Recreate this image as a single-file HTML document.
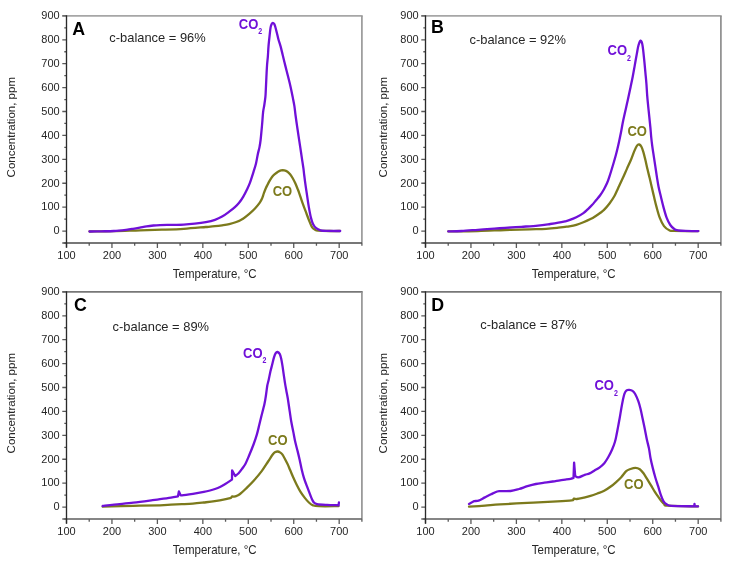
<!DOCTYPE html>
<html><head><meta charset="utf-8"><style>
html,body{margin:0;padding:0;background:#fff;}
body{width:730px;height:564px;overflow:hidden;}
svg{display:block;filter:blur(0.3px);}
text{font-family:"Liberation Sans",sans-serif;}
.tk{font-size:11px;fill:#262626;}
.at{font-size:11.5px;fill:#262626;}
.cb{font-size:12.9px;fill:#262626;}
.pl{font-size:17.8px;font-weight:bold;fill:#000;}
.lb{font-size:13px;font-weight:bold;}
.sub{font-size:8.8px;}
</style></head><body>
<svg width="730" height="564" viewBox="0 0 730 564">
<rect width="730" height="564" fill="#fff"/>
<path d="M62.3,15.9H362.7" stroke="#a6a6a6" stroke-width="1.7" fill="none"/>
<path d="M361.9,15.9V243" stroke="#9a9a9a" stroke-width="1.7" fill="none"/>
<path d="M64.3,243H66.5M62.3,231.05H66.5M64.3,219.09H66.5M62.3,207.14H66.5M64.3,195.19H66.5M62.3,183.24H66.5M64.3,171.28H66.5M62.3,159.33H66.5M64.3,147.38H66.5M62.3,135.43H66.5M64.3,123.47H66.5M62.3,111.52H66.5M64.3,99.57H66.5M62.3,87.62H66.5M64.3,75.66H66.5M62.3,63.71H66.5M64.3,51.76H66.5M62.3,39.81H66.5M64.3,27.85H66.5M62.3,15.9H66.5M66.5,243V247.9M89.22,243V245.7M111.95,243V247.9M134.67,243V245.7M157.39,243V247.9M180.12,243V245.7M202.84,243V247.9M225.56,243V245.7M248.28,243V247.9M271.01,243V245.7M293.73,243V247.9M316.45,243V245.7M339.18,243V247.9M361.9,243V245.7" stroke="#5a5a5a" stroke-width="1.3" fill="none"/>
<path d="M62.3,243H361.9" stroke="#4a4a4a" stroke-width="1.7" fill="none"/>
<path d="M66.5,15.3V247.4" stroke="#2a2a2a" stroke-width="1.35" fill="none"/>
<text transform="translate(59.6,234.35) scale(1,1.07)" text-anchor="end" class="tk">0</text>
<text transform="translate(59.6,210.44) scale(1,1.07)" text-anchor="end" class="tk">100</text>
<text transform="translate(59.6,186.54) scale(1,1.07)" text-anchor="end" class="tk">200</text>
<text transform="translate(59.6,162.63) scale(1,1.07)" text-anchor="end" class="tk">300</text>
<text transform="translate(59.6,138.73) scale(1,1.07)" text-anchor="end" class="tk">400</text>
<text transform="translate(59.6,114.82) scale(1,1.07)" text-anchor="end" class="tk">500</text>
<text transform="translate(59.6,90.92) scale(1,1.07)" text-anchor="end" class="tk">600</text>
<text transform="translate(59.6,67.01) scale(1,1.07)" text-anchor="end" class="tk">700</text>
<text transform="translate(59.6,43.11) scale(1,1.07)" text-anchor="end" class="tk">800</text>
<text transform="translate(59.6,19.2) scale(1,1.07)" text-anchor="end" class="tk">900</text>
<text transform="translate(66.5,259) scale(1,1.07)" text-anchor="middle" class="tk">100</text>
<text transform="translate(111.95,259) scale(1,1.07)" text-anchor="middle" class="tk">200</text>
<text transform="translate(157.39,259) scale(1,1.07)" text-anchor="middle" class="tk">300</text>
<text transform="translate(202.84,259) scale(1,1.07)" text-anchor="middle" class="tk">400</text>
<text transform="translate(248.28,259) scale(1,1.07)" text-anchor="middle" class="tk">500</text>
<text transform="translate(293.73,259) scale(1,1.07)" text-anchor="middle" class="tk">600</text>
<text transform="translate(339.18,259) scale(1,1.07)" text-anchor="middle" class="tk">700</text>
<text transform="translate(214.7,278.2) scale(1,1.07)" text-anchor="middle" class="at">Temperature, °C</text>
<text transform="translate(14.5,127.2) rotate(-90)" text-anchor="middle" class="at">Concentration, ppm</text>
<path d="M89.5,231.5C93.55,231.45 105.38,231.4 113.8,231.2C122.22,231 131.98,230.55 140,230.3C148.02,230.05 154.6,229.95 161.9,229.7C169.2,229.45 176.48,229.25 183.8,228.8C191.12,228.35 200.6,227.43 205.8,227C211,226.57 212.28,226.48 215,226.2C217.72,225.92 219.73,225.65 222.1,225.3C224.47,224.95 226.83,224.65 229.2,224.1C231.57,223.55 233.93,222.95 236.3,222C238.67,221.05 241.28,219.72 243.4,218.4C245.52,217.08 247.07,215.75 249,214.1C250.93,212.45 253.2,210.4 255,208.5C256.8,206.6 258.63,204.35 259.8,202.7C260.97,201.05 261.32,200.18 262,198.6C262.68,197.02 263.27,194.92 263.9,193.2C264.53,191.48 265.17,189.77 265.8,188.3C266.43,186.83 267.05,185.68 267.7,184.4C268.35,183.12 268.95,181.87 269.7,180.6C270.45,179.33 271.35,177.87 272.2,176.8C273.05,175.73 273.83,175.05 274.8,174.2C275.77,173.35 276.95,172.33 278,171.7C279.05,171.07 280.05,170.62 281.1,170.4C282.15,170.18 283.23,170.18 284.3,170.4C285.37,170.62 286.53,171.07 287.5,171.7C288.47,172.33 289.25,173.15 290.1,174.2C290.95,175.25 291.75,176.52 292.6,178C293.45,179.48 294.37,181.28 295.2,183.1C296.03,184.92 296.93,187.23 297.6,188.9C298.27,190.57 298.4,190.8 299.2,193.1C300,195.4 301.33,199.68 302.4,202.7C303.47,205.72 304.53,208.37 305.6,211.2C306.67,214.03 307.73,217.05 308.8,219.7C309.87,222.35 310.95,225.42 312,227.1C313.05,228.78 314.1,229.22 315.1,229.8C316.1,230.38 315.52,230.4 318,230.6C320.48,230.8 326.33,230.93 330,231C333.67,231.07 338.33,231 340,231" stroke="#7c7a1c" stroke-width="2.3" fill="none" stroke-linejoin="round" stroke-linecap="round"/>
<path d="M89.5,231.5C91.48,231.47 97.35,231.38 101.4,231.3C105.45,231.22 109.68,231.25 113.8,231C117.92,230.75 122.9,230.17 126.1,229.8C129.3,229.43 130.72,229.17 133,228.8C135.28,228.43 137.53,228.02 139.8,227.6C142.07,227.18 144.32,226.65 146.6,226.3C148.88,225.95 151.27,225.7 153.5,225.5C155.73,225.3 157.72,225.2 160,225.1C162.28,225 164.7,224.93 167.2,224.9C169.7,224.87 172.23,224.93 175,224.9C177.77,224.87 180.5,224.9 183.8,224.7C187.1,224.5 191.13,224.13 194.8,223.7C198.47,223.27 202.43,222.75 205.8,222.1C209.17,221.45 212.28,220.72 215,219.8C217.72,218.88 219.73,217.95 222.1,216.6C224.47,215.25 227.07,213.28 229.2,211.7C231.33,210.12 233.25,208.58 234.9,207.1C236.55,205.62 237.7,204.55 239.1,202.8C240.5,201.05 241.97,198.87 243.3,196.6C244.63,194.33 246,191.5 247.1,189.2C248.2,186.9 248.83,185.68 249.9,182.8C250.97,179.92 252.48,175.13 253.5,171.9C254.52,168.67 255.28,166.35 256,163.4C256.72,160.45 257.22,156.92 257.8,154.2C258.38,151.48 259.03,149.47 259.5,147.1C259.97,144.73 260.18,143.6 260.6,140C261.02,136.4 261.58,130.13 262,125.5C262.42,120.87 262.72,115.62 263.1,112.2C263.48,108.78 263.92,107.55 264.3,105C264.68,102.45 265.15,99.4 265.4,96.9C265.65,94.4 265.67,92.57 265.8,90C265.93,87.43 266.07,84.33 266.2,81.5C266.33,78.67 266.45,75.83 266.6,73C266.75,70.17 266.88,67.33 267.1,64.5C267.32,61.67 267.67,59.02 267.9,56C268.13,52.98 268.22,49.78 268.5,46.4C268.78,43.02 269.25,38.87 269.6,35.7C269.95,32.53 270.25,29.37 270.6,27.4C270.95,25.43 271.33,24.67 271.7,23.9C272.07,23.13 272.38,22.82 272.8,22.8C273.22,22.78 273.8,23.18 274.2,23.8C274.6,24.42 274.78,25.1 275.2,26.5C275.62,27.9 276.17,30.07 276.7,32.2C277.23,34.33 277.75,36.93 278.4,39.3C279.05,41.67 279.88,43.78 280.6,46.4C281.32,49.02 281.92,51.8 282.7,55C283.48,58.2 284.42,62.05 285.3,65.6C286.18,69.15 287.12,72.75 288,76.3C288.88,79.85 289.8,83.35 290.6,86.9C291.4,90.45 292.17,94.4 292.8,97.6C293.43,100.8 293.95,103.2 294.4,106.1C294.85,109 295.07,111.75 295.5,115C295.93,118.25 296.48,122.05 297,125.6C297.52,129.15 298.07,132.75 298.6,136.3C299.13,139.85 299.67,143.35 300.2,146.9C300.73,150.45 301.27,154.05 301.8,157.6C302.33,161.15 303,165.3 303.4,168.2C303.8,171.1 303.83,172.1 304.2,175C304.57,177.9 305.1,182.05 305.6,185.6C306.1,189.15 306.67,192.75 307.2,196.3C307.73,199.85 308.18,203.35 308.8,206.9C309.42,210.45 310.2,214.77 310.9,217.6C311.6,220.43 312.12,222.13 313,223.9C313.88,225.67 314.95,227.13 316.2,228.2C317.45,229.27 318.87,229.85 320.5,230.3C322.13,230.75 322.72,230.78 326,230.9C329.28,231.02 337.83,230.98 340.2,231" stroke="#7010d8" stroke-width="2.3" fill="none" stroke-linejoin="round" stroke-linecap="round"/>
<text transform="translate(72.3,34.7) scale(1,1.04)" class="pl">A</text>
<text transform="translate(109.3,41.6) scale(1,1.04)" class="cb">c-balance = 96%</text>
<text transform="translate(238.8,28.7) scale(1,1.07)" class="lb" fill="#7010d8">CO</text>
<text transform="translate(258.3,34.3) scale(0.8,1)" class="lb sub" fill="#7010d8">2</text>
<text transform="translate(272.7,196) scale(1,1.07)" class="lb" fill="#7c7a1c">CO</text>
<path d="M421.3,15.9H721.7" stroke="#a6a6a6" stroke-width="1.7" fill="none"/>
<path d="M720.9,15.9V243" stroke="#8e8e8e" stroke-width="1.7" fill="none"/>
<path d="M423.3,243H425.5M421.3,231.05H425.5M423.3,219.09H425.5M421.3,207.14H425.5M423.3,195.19H425.5M421.3,183.24H425.5M423.3,171.28H425.5M421.3,159.33H425.5M423.3,147.38H425.5M421.3,135.43H425.5M423.3,123.47H425.5M421.3,111.52H425.5M423.3,99.57H425.5M421.3,87.62H425.5M423.3,75.66H425.5M421.3,63.71H425.5M423.3,51.76H425.5M421.3,39.81H425.5M423.3,27.85H425.5M421.3,15.9H425.5M425.5,243V247.9M448.22,243V245.7M470.95,243V247.9M493.67,243V245.7M516.39,243V247.9M539.12,243V245.7M561.84,243V247.9M584.56,243V245.7M607.28,243V247.9M630.01,243V245.7M652.73,243V247.9M675.45,243V245.7M698.18,243V247.9M720.9,243V245.7" stroke="#5a5a5a" stroke-width="1.3" fill="none"/>
<path d="M421.3,243H720.9" stroke="#4a4a4a" stroke-width="1.7" fill="none"/>
<path d="M425.5,15.3V247.4" stroke="#2a2a2a" stroke-width="1.35" fill="none"/>
<text transform="translate(418.6,234.35) scale(1,1.07)" text-anchor="end" class="tk">0</text>
<text transform="translate(418.6,210.44) scale(1,1.07)" text-anchor="end" class="tk">100</text>
<text transform="translate(418.6,186.54) scale(1,1.07)" text-anchor="end" class="tk">200</text>
<text transform="translate(418.6,162.63) scale(1,1.07)" text-anchor="end" class="tk">300</text>
<text transform="translate(418.6,138.73) scale(1,1.07)" text-anchor="end" class="tk">400</text>
<text transform="translate(418.6,114.82) scale(1,1.07)" text-anchor="end" class="tk">500</text>
<text transform="translate(418.6,90.92) scale(1,1.07)" text-anchor="end" class="tk">600</text>
<text transform="translate(418.6,67.01) scale(1,1.07)" text-anchor="end" class="tk">700</text>
<text transform="translate(418.6,43.11) scale(1,1.07)" text-anchor="end" class="tk">800</text>
<text transform="translate(418.6,19.2) scale(1,1.07)" text-anchor="end" class="tk">900</text>
<text transform="translate(425.5,259) scale(1,1.07)" text-anchor="middle" class="tk">100</text>
<text transform="translate(470.95,259) scale(1,1.07)" text-anchor="middle" class="tk">200</text>
<text transform="translate(516.39,259) scale(1,1.07)" text-anchor="middle" class="tk">300</text>
<text transform="translate(561.84,259) scale(1,1.07)" text-anchor="middle" class="tk">400</text>
<text transform="translate(607.28,259) scale(1,1.07)" text-anchor="middle" class="tk">500</text>
<text transform="translate(652.73,259) scale(1,1.07)" text-anchor="middle" class="tk">600</text>
<text transform="translate(698.18,259) scale(1,1.07)" text-anchor="middle" class="tk">700</text>
<text transform="translate(573.7,278.2) scale(1,1.07)" text-anchor="middle" class="at">Temperature, °C</text>
<text transform="translate(387.3,127.2) rotate(-90)" text-anchor="middle" class="at">Concentration, ppm</text>
<path d="M448.3,231.4C453.23,231.33 468.45,231.23 477.9,231C487.35,230.77 496.37,230.28 505,230C513.63,229.72 522.85,229.5 529.7,229.3C536.55,229.1 541.32,229.07 546.1,228.8C550.88,228.53 555.25,228.03 558.4,227.7C561.55,227.37 563.2,227.03 565,226.8C566.8,226.57 567.32,226.63 569.2,226.3C571.08,225.97 573.93,225.47 576.3,224.8C578.67,224.13 581.03,223.25 583.4,222.3C585.77,221.35 588.5,220.12 590.5,219.1C592.5,218.08 593.75,217.27 595.4,216.2C597.05,215.13 598.97,213.75 600.4,212.7C601.83,211.65 602.48,211.43 604,209.9C605.52,208.37 607.78,205.77 609.5,203.5C611.22,201.23 612.88,198.82 614.3,196.3C615.72,193.78 616.6,191.4 618,188.4C619.4,185.4 621.2,181.6 622.7,178.3C624.2,175 625.58,171.77 627,168.6C628.42,165.43 629.97,162.25 631.2,159.3C632.43,156.35 633.43,153.18 634.4,150.9C635.37,148.62 636.2,146.67 637,145.6C637.8,144.53 638.48,144.35 639.2,144.5C639.92,144.65 640.62,145.28 641.3,146.5C641.98,147.72 642.62,149.55 643.3,151.8C643.98,154.05 644.7,157.08 645.4,160C646.1,162.92 646.8,166.33 647.5,169.3C648.2,172.27 648.93,175.02 649.6,177.8C650.27,180.58 650.78,182.92 651.5,186C652.22,189.08 653.07,192.82 653.9,196.3C654.73,199.78 655.53,203.35 656.5,206.9C657.47,210.45 658.45,214.4 659.7,217.6C660.95,220.8 662.4,223.98 664,226.1C665.6,228.22 667.72,229.5 669.3,230.3C670.88,231.1 668.67,230.77 673.5,230.9C678.33,231.03 694.17,231.07 698.3,231.1" stroke="#7c7a1c" stroke-width="2.3" fill="none" stroke-linejoin="round" stroke-linecap="round"/>
<path d="M448.3,231.4C450.48,231.33 456.47,231.27 461.4,231C466.33,230.73 472.42,230.2 477.9,229.8C483.38,229.4 489.78,228.92 494.3,228.6C498.82,228.28 500.48,228.2 505,227.9C509.52,227.6 515.92,227.18 521.4,226.8C526.88,226.42 533.1,226.07 537.9,225.6C542.7,225.13 546.78,224.48 550.2,224C553.62,223.52 555.93,223.15 558.4,222.7C560.87,222.25 563.2,221.72 565,221.3C566.8,220.88 567.32,220.87 569.2,220.2C571.08,219.53 573.93,218.48 576.3,217.3C578.67,216.12 581.45,214.47 583.4,213.1C585.35,211.73 586.57,210.43 588,209.1C589.43,207.77 590.67,206.57 592,205.1C593.33,203.63 594.67,201.9 596,200.3C597.33,198.7 598.67,197.35 600,195.5C601.33,193.65 602.8,191.32 604,189.2C605.2,187.08 606.28,184.93 607.2,182.8C608.12,180.67 608.78,178.53 609.5,176.4C610.22,174.27 610.82,172.23 611.5,170C612.18,167.77 612.88,165.45 613.6,163C614.32,160.55 615.15,157.72 615.8,155.3C616.45,152.88 616.95,150.8 617.5,148.5C618.05,146.2 618.48,144.37 619.1,141.5C619.72,138.63 620.5,134.88 621.2,131.3C621.9,127.72 622.22,125.13 623.3,120C624.38,114.87 626.5,105.93 627.7,100.5C628.9,95.07 629.67,91.35 630.5,87.4C631.33,83.45 631.98,80.52 632.7,76.8C633.42,73.08 634.1,69 634.8,65.1C635.5,61.2 636.28,56.72 636.9,53.4C637.52,50.08 637.88,47.33 638.5,45.2C639.12,43.07 639.98,40.83 640.6,40.6C641.22,40.37 641.75,42.02 642.2,43.8C642.65,45.58 642.93,48.28 643.3,51.3C643.67,54.32 644.05,58.35 644.4,61.9C644.75,65.45 645.07,69 645.4,72.6C645.73,76.2 646.1,79.67 646.4,83.5C646.7,87.33 646.9,91.8 647.2,95.6C647.5,99.4 647.85,102.75 648.2,106.3C648.55,109.85 648.93,113.35 649.3,116.9C649.67,120.45 650.08,124.25 650.4,127.6C650.72,130.95 650.9,134 651.2,137C651.5,140 651.77,142.38 652.2,145.6C652.63,148.82 653.27,152.75 653.8,156.3C654.33,159.85 654.87,163.35 655.4,166.9C655.93,170.45 656.47,174.25 657,177.6C657.53,180.95 657.97,183.88 658.6,187C659.23,190.12 660,192.98 660.8,196.3C661.6,199.62 662.43,203.35 663.4,206.9C664.37,210.45 665.45,214.58 666.6,217.6C667.75,220.62 668.97,223.05 670.3,225C671.63,226.95 673.32,228.42 674.6,229.3C675.88,230.18 676.27,230.03 678,230.3C679.73,230.57 681.62,230.77 685,230.9C688.38,231.03 696.08,231.07 698.3,231.1" stroke="#7010d8" stroke-width="2.3" fill="none" stroke-linejoin="round" stroke-linecap="round"/>
<text transform="translate(431.1,32.6) scale(1,1.04)" class="pl">B</text>
<text transform="translate(469.5,43.5) scale(1,1.04)" class="cb">c-balance = 92%</text>
<text transform="translate(607.5,55.1) scale(1,1.07)" class="lb" fill="#7010d8">CO</text>
<text transform="translate(627,60.7) scale(0.8,1)" class="lb sub" fill="#7010d8">2</text>
<text transform="translate(627.4,135.8) scale(1,1.07)" class="lb" fill="#7c7a1c">CO</text>
<path d="M62.3,291.9H362.7" stroke="#777777" stroke-width="1.7" fill="none"/>
<path d="M361.9,291.9V519" stroke="#959595" stroke-width="1.7" fill="none"/>
<path d="M64.3,519H66.5M62.3,507.05H66.5M64.3,495.09H66.5M62.3,483.14H66.5M64.3,471.19H66.5M62.3,459.24H66.5M64.3,447.28H66.5M62.3,435.33H66.5M64.3,423.38H66.5M62.3,411.43H66.5M64.3,399.47H66.5M62.3,387.52H66.5M64.3,375.57H66.5M62.3,363.62H66.5M64.3,351.66H66.5M62.3,339.71H66.5M64.3,327.76H66.5M62.3,315.81H66.5M64.3,303.85H66.5M62.3,291.9H66.5M66.5,519V523.9M89.22,519V521.7M111.95,519V523.9M134.67,519V521.7M157.39,519V523.9M180.12,519V521.7M202.84,519V523.9M225.56,519V521.7M248.28,519V523.9M271.01,519V521.7M293.73,519V523.9M316.45,519V521.7M339.18,519V523.9M361.9,519V521.7" stroke="#5a5a5a" stroke-width="1.3" fill="none"/>
<path d="M62.3,519H361.9" stroke="#5e5e5e" stroke-width="1.7" fill="none"/>
<path d="M66.5,291.3V523.4" stroke="#2a2a2a" stroke-width="1.35" fill="none"/>
<text transform="translate(59.6,510.35) scale(1,1.07)" text-anchor="end" class="tk">0</text>
<text transform="translate(59.6,486.44) scale(1,1.07)" text-anchor="end" class="tk">100</text>
<text transform="translate(59.6,462.54) scale(1,1.07)" text-anchor="end" class="tk">200</text>
<text transform="translate(59.6,438.63) scale(1,1.07)" text-anchor="end" class="tk">300</text>
<text transform="translate(59.6,414.73) scale(1,1.07)" text-anchor="end" class="tk">400</text>
<text transform="translate(59.6,390.82) scale(1,1.07)" text-anchor="end" class="tk">500</text>
<text transform="translate(59.6,366.92) scale(1,1.07)" text-anchor="end" class="tk">600</text>
<text transform="translate(59.6,343.01) scale(1,1.07)" text-anchor="end" class="tk">700</text>
<text transform="translate(59.6,319.11) scale(1,1.07)" text-anchor="end" class="tk">800</text>
<text transform="translate(59.6,295.2) scale(1,1.07)" text-anchor="end" class="tk">900</text>
<text transform="translate(66.5,535) scale(1,1.07)" text-anchor="middle" class="tk">100</text>
<text transform="translate(111.95,535) scale(1,1.07)" text-anchor="middle" class="tk">200</text>
<text transform="translate(157.39,535) scale(1,1.07)" text-anchor="middle" class="tk">300</text>
<text transform="translate(202.84,535) scale(1,1.07)" text-anchor="middle" class="tk">400</text>
<text transform="translate(248.28,535) scale(1,1.07)" text-anchor="middle" class="tk">500</text>
<text transform="translate(293.73,535) scale(1,1.07)" text-anchor="middle" class="tk">600</text>
<text transform="translate(339.18,535) scale(1,1.07)" text-anchor="middle" class="tk">700</text>
<text transform="translate(214.7,554.2) scale(1,1.07)" text-anchor="middle" class="at">Temperature, °C</text>
<text transform="translate(14.5,403.2) rotate(-90)" text-anchor="middle" class="at">Concentration, ppm</text>
<path d="M102.7,506.6C107.82,506.47 123.85,506.02 133.4,505.8C142.95,505.58 153.73,505.48 160,505.3C166.27,505.12 167.35,504.88 171,504.7C174.65,504.52 178.25,504.38 181.9,504.2C185.55,504.02 189.25,503.88 192.9,503.6C196.55,503.32 200.15,502.9 203.8,502.5C207.45,502.1 211.13,501.75 214.8,501.2C218.47,500.65 223.1,499.75 225.8,499.2C228.5,498.65 230.13,498.12 231,497.9L232,496.4C232.33,496.43 233.22,496.68 234,496.6C234.78,496.52 235.7,496.33 236.7,495.9C237.7,495.47 238.48,495.2 240,494C241.52,492.8 243.52,490.92 245.8,488.7C248.08,486.48 251.05,483.63 253.7,480.7C256.35,477.77 259.3,474.3 261.7,471.1C264.1,467.9 266.23,464.3 268.1,461.5C269.97,458.7 271.67,455.88 272.9,454.3C274.13,452.72 274.7,452.47 275.5,452C276.3,451.53 276.95,451.43 277.7,451.5C278.45,451.57 279.2,451.88 280,452.4C280.8,452.92 281.28,452.73 282.5,454.6C283.72,456.47 286.05,461.07 287.3,463.6C288.55,466.13 289,467.48 290,469.8C291,472.12 292.17,474.97 293.3,477.5C294.43,480.03 295.57,482.55 296.8,485C298.03,487.45 299.37,490.05 300.7,492.2C302.03,494.35 303.43,496.18 304.8,497.9C306.17,499.62 307.53,501.27 308.9,502.5C310.27,503.73 311.35,504.68 313,505.3C314.65,505.92 314.55,506.05 318.8,506.2C323.05,506.35 335.22,506.2 338.5,506.2" stroke="#7c7a1c" stroke-width="2.3" fill="none" stroke-linejoin="round" stroke-linecap="round"/>
<path d="M102.7,506C104.62,505.77 109.08,505.17 114.2,504.6C119.32,504.03 127.02,503.33 133.4,502.6C139.78,501.87 148.07,500.77 152.5,500.2C156.93,499.63 156.92,499.63 160,499.2C163.08,498.77 168.02,498.07 171,497.6C173.98,497.13 176.75,496.6 177.9,496.4L178.9,491.4L180.4,494.8C180.65,494.88 179.82,495.47 181.9,495.3C183.98,495.13 189.25,494.37 192.9,493.8C196.55,493.23 200.95,492.45 203.8,491.9C206.65,491.35 208.13,490.98 210,490.5C211.87,490.02 213.33,489.58 215,489C216.67,488.42 218.28,487.83 220,487C221.72,486.17 223.3,485.23 225.3,484C227.3,482.77 230.88,480.33 232,479.6L232.1,470.4L235.2,476C235.77,475.55 237.42,474.55 238.6,473.3C239.78,472.05 241.15,470.1 242.3,468.5C243.45,466.9 244.38,465.82 245.5,463.7C246.62,461.58 247.63,459.08 249,455.8C250.37,452.52 252.38,447.57 253.7,444C255.02,440.43 255.97,437.6 256.9,434.4C257.83,431.2 258.57,427.78 259.3,424.8C260.03,421.82 260.43,420 261.3,416.5C262.17,413 263.72,407.38 264.5,403.8C265.28,400.22 265.53,398.05 266,395C266.47,391.95 266.87,387.97 267.3,385.5C267.73,383.03 268.08,382.52 268.6,380.2C269.12,377.88 269.8,374.22 270.4,371.6C271,368.98 271.6,366.87 272.2,364.5C272.8,362.13 273.42,359.28 274,357.4C274.58,355.52 275.13,354.1 275.7,353.2C276.27,352.3 276.73,351.88 277.4,352C278.07,352.12 279.08,352.85 279.7,353.9C280.32,354.95 280.65,356.38 281.1,358.3C281.55,360.22 281.97,362.73 282.4,365.4C282.83,368.07 283.27,371.35 283.7,374.3C284.13,377.25 284.57,380.4 285,383.1C285.43,385.8 285.83,387.93 286.3,390.5C286.77,393.07 287.25,395.15 287.8,398.5C288.35,401.85 289.03,406.8 289.6,410.6C290.17,414.4 290.58,417.75 291.2,421.3C291.82,424.85 292.6,428.35 293.3,431.9C294,435.45 294.68,439.4 295.4,442.6C296.12,445.8 296.88,448.2 297.6,451.1C298.32,454 299.02,456.93 299.7,460C300.38,463.07 300.98,466.47 301.7,469.5C302.42,472.53 303.22,475.65 304,478.2C304.78,480.75 305.58,482.6 306.4,484.8C307.22,487 308.07,489.22 308.9,491.4C309.73,493.58 310.58,496.07 311.4,497.9C312.22,499.73 312.85,501.37 313.8,502.4C314.75,503.43 314.9,503.68 317.1,504.1C319.3,504.52 323.42,504.7 327,504.9C330.58,505.1 336.67,505.23 338.6,505.3L338.9,502.5" stroke="#7010d8" stroke-width="2.3" fill="none" stroke-linejoin="round" stroke-linecap="round"/>
<text transform="translate(73.9,310.8) scale(1,1.04)" class="pl">C</text>
<text transform="translate(112.6,331.1) scale(1,1.04)" class="cb">c-balance = 89%</text>
<text transform="translate(243.1,357.8) scale(1,1.07)" class="lb" fill="#7010d8">CO</text>
<text transform="translate(262.6,363.4) scale(0.8,1)" class="lb sub" fill="#7010d8">2</text>
<text transform="translate(268.1,445.3) scale(1,1.07)" class="lb" fill="#7c7a1c">CO</text>
<path d="M421.3,291.9H721.7" stroke="#777777" stroke-width="1.7" fill="none"/>
<path d="M720.9,291.9V519" stroke="#8c8c8c" stroke-width="1.7" fill="none"/>
<path d="M423.3,519H425.5M421.3,507.05H425.5M423.3,495.09H425.5M421.3,483.14H425.5M423.3,471.19H425.5M421.3,459.24H425.5M423.3,447.28H425.5M421.3,435.33H425.5M423.3,423.38H425.5M421.3,411.43H425.5M423.3,399.47H425.5M421.3,387.52H425.5M423.3,375.57H425.5M421.3,363.62H425.5M423.3,351.66H425.5M421.3,339.71H425.5M423.3,327.76H425.5M421.3,315.81H425.5M423.3,303.85H425.5M421.3,291.9H425.5M425.5,519V523.9M448.22,519V521.7M470.95,519V523.9M493.67,519V521.7M516.39,519V523.9M539.12,519V521.7M561.84,519V523.9M584.56,519V521.7M607.28,519V523.9M630.01,519V521.7M652.73,519V523.9M675.45,519V521.7M698.18,519V523.9M720.9,519V521.7" stroke="#5a5a5a" stroke-width="1.3" fill="none"/>
<path d="M421.3,519H720.9" stroke="#5e5e5e" stroke-width="1.7" fill="none"/>
<path d="M425.5,291.3V523.4" stroke="#2a2a2a" stroke-width="1.35" fill="none"/>
<text transform="translate(418.6,510.35) scale(1,1.07)" text-anchor="end" class="tk">0</text>
<text transform="translate(418.6,486.44) scale(1,1.07)" text-anchor="end" class="tk">100</text>
<text transform="translate(418.6,462.54) scale(1,1.07)" text-anchor="end" class="tk">200</text>
<text transform="translate(418.6,438.63) scale(1,1.07)" text-anchor="end" class="tk">300</text>
<text transform="translate(418.6,414.73) scale(1,1.07)" text-anchor="end" class="tk">400</text>
<text transform="translate(418.6,390.82) scale(1,1.07)" text-anchor="end" class="tk">500</text>
<text transform="translate(418.6,366.92) scale(1,1.07)" text-anchor="end" class="tk">600</text>
<text transform="translate(418.6,343.01) scale(1,1.07)" text-anchor="end" class="tk">700</text>
<text transform="translate(418.6,319.11) scale(1,1.07)" text-anchor="end" class="tk">800</text>
<text transform="translate(418.6,295.2) scale(1,1.07)" text-anchor="end" class="tk">900</text>
<text transform="translate(425.5,535) scale(1,1.07)" text-anchor="middle" class="tk">100</text>
<text transform="translate(470.95,535) scale(1,1.07)" text-anchor="middle" class="tk">200</text>
<text transform="translate(516.39,535) scale(1,1.07)" text-anchor="middle" class="tk">300</text>
<text transform="translate(561.84,535) scale(1,1.07)" text-anchor="middle" class="tk">400</text>
<text transform="translate(607.28,535) scale(1,1.07)" text-anchor="middle" class="tk">500</text>
<text transform="translate(652.73,535) scale(1,1.07)" text-anchor="middle" class="tk">600</text>
<text transform="translate(698.18,535) scale(1,1.07)" text-anchor="middle" class="tk">700</text>
<text transform="translate(573.7,554.2) scale(1,1.07)" text-anchor="middle" class="at">Temperature, °C</text>
<text transform="translate(387.3,403.2) rotate(-90)" text-anchor="middle" class="at">Concentration, ppm</text>
<path d="M469,506.7C471.67,506.52 479.83,505.98 485,505.6C490.17,505.22 492.93,504.85 500,504.4C507.07,503.95 518.62,503.35 527.4,502.9C536.18,502.45 545.67,502.08 552.7,501.7C559.73,501.32 566.18,500.88 569.6,500.6C573.02,500.32 572.6,500.1 573.2,500L573.7,498.6C574.22,498.67 575.13,499.17 576.8,499C578.47,498.83 581.42,498.12 583.7,497.6C585.98,497.08 588.22,496.58 590.5,495.9C592.78,495.22 595.12,494.35 597.4,493.5C599.68,492.65 601.92,492 604.2,490.8C606.48,489.6 609.1,487.77 611.1,486.3C613.1,484.83 614.52,483.52 616.2,482C617.88,480.48 619.53,479 621.2,477.2C622.87,475.4 624.65,472.57 626.2,471.2C627.75,469.83 628.95,469.57 630.5,469C632.05,468.43 633.95,467.75 635.5,467.8C637.05,467.85 638.47,468.38 639.8,469.3C641.13,470.22 642.27,471.65 643.5,473.3C644.73,474.95 645.95,477.18 647.2,479.2C648.45,481.22 649.75,483.33 651,485.4C652.25,487.47 653.57,489.8 654.7,491.6C655.83,493.4 656.7,494.62 657.8,496.2C658.9,497.78 660.18,499.75 661.3,501.1C662.42,502.45 663.38,503.53 664.5,504.3C665.62,505.07 662.42,505.35 668,505.7C673.58,506.05 693,506.28 698,506.4" stroke="#7c7a1c" stroke-width="2.3" fill="none" stroke-linejoin="round" stroke-linecap="round"/>
<path d="M469,503.9C469.5,503.63 471.12,502.77 472,502.3C472.88,501.83 473.2,501.38 474.3,501.1C475.4,500.82 476.85,501.22 478.6,500.6C480.35,499.98 482.73,498.45 484.8,497.4C486.87,496.35 488.93,495.28 491,494.3C493.07,493.32 495.62,492.03 497.2,491.5C498.78,490.97 498.27,491.18 500.5,491.1C502.73,491.02 507.52,491.35 510.6,491C513.68,490.65 516.2,489.8 519,489C521.8,488.2 524.6,487.03 527.4,486.2C530.2,485.37 532.98,484.58 535.8,484C538.62,483.42 541.48,483.12 544.3,482.7C547.12,482.28 550.08,481.9 552.7,481.5C555.32,481.1 557.9,480.62 560,480.3C562.1,479.98 563.53,479.85 565.3,479.6C567.07,479.35 569.23,479.07 570.6,478.8C571.97,478.53 573.02,478.13 573.5,478L574.1,462.6L575.2,476C575.72,476.23 576.7,477.58 578.3,477.4C579.9,477.22 582.92,475.57 584.8,474.9C586.68,474.23 587.98,474.13 589.6,473.4C591.22,472.67 592.87,471.47 594.5,470.5C596.13,469.53 597.77,468.82 599.4,467.6C601.03,466.38 602.83,464.92 604.3,463.2C605.77,461.48 606.9,459.58 608.2,457.3C609.5,455.02 610.98,452.05 612.1,449.5C613.22,446.95 614.17,444.4 614.9,442C615.63,439.6 615.97,437.67 616.5,435.1C617.03,432.53 617.57,429.45 618.1,426.6C618.63,423.75 619.17,421.02 619.7,418C620.23,414.98 620.77,411.5 621.3,408.5C621.83,405.5 622.37,402.48 622.9,400C623.43,397.52 623.88,395.2 624.5,393.6C625.12,392 625.8,391.02 626.6,390.4C627.4,389.78 628.32,389.82 629.3,389.9C630.28,389.98 631.5,390.18 632.5,390.9C633.5,391.62 634.32,392.45 635.3,394.2C636.28,395.95 637.53,398.97 638.4,401.4C639.27,403.83 639.8,405.97 640.5,408.8C641.2,411.63 641.88,415.03 642.6,418.4C643.32,421.77 644.08,425.45 644.8,429C645.52,432.55 646.2,436.43 646.9,439.7C647.6,442.97 648.38,445.47 649,448.6C649.62,451.73 649.97,455.25 650.6,458.5C651.23,461.75 652,464.9 652.8,468.1C653.6,471.3 654.52,474.68 655.4,477.7C656.28,480.72 657.22,483.37 658.1,486.2C658.98,489.03 659.82,492.22 660.7,494.7C661.58,497.18 662.42,499.5 663.4,501.1C664.38,502.7 665.18,503.5 666.6,504.3C668.02,505.1 667.3,505.57 671.9,505.9C676.5,506.23 690.48,506.23 694.2,506.3L694.5,503.9L694.8,506.3L698,506.4" stroke="#7010d8" stroke-width="2.3" fill="none" stroke-linejoin="round" stroke-linecap="round"/>
<text transform="translate(431.2,310.8) scale(1,1.04)" class="pl">D</text>
<text transform="translate(480.3,328.5) scale(1,1.04)" class="cb">c-balance = 87%</text>
<text transform="translate(594.4,390.1) scale(1,1.07)" class="lb" fill="#7010d8">CO</text>
<text transform="translate(613.9,395.7) scale(0.8,1)" class="lb sub" fill="#7010d8">2</text>
<text transform="translate(624,489.4) scale(1,1.07)" class="lb" fill="#7c7a1c">CO</text>
</svg>
</body></html>
